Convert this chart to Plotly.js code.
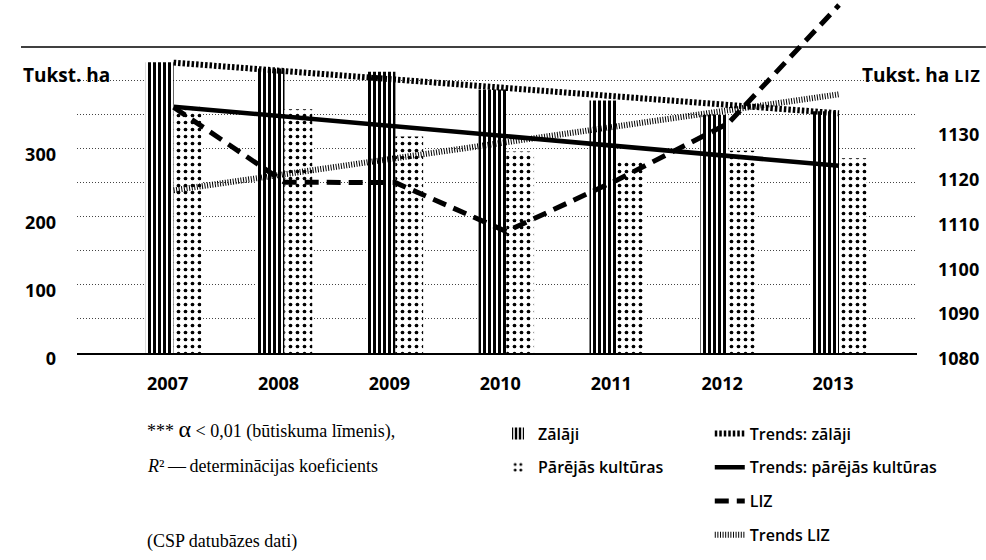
<!DOCTYPE html>
<html>
<head>
<meta charset="utf-8">
<script src="https://cdn.plot.ly/plotly-3.0.1.min.js"></script>
<style>
html,body{margin:0;padding:0;background:#fff;}
#chart{width:986px;height:560px;}
</style>
</head>
<body>
<div id="chart"></div>
<script>
// ---- data ----
const years = [2007, 2008, 2009, 2010, 2011, 2012, 2013];
const yearLabels = ['2007', '2008', '2009', '2010', '2011', '2012', '2013'];
const zalaji = [427, 418, 413, 387, 371, 350, 355];          // Tukst. ha
const parejas = [365, 358, 318, 296, 282, 297, 286];         // Tukst. ha
const liz = [1134.8, 1118.1, 1118.0, 1107.1, 1118.6, 1131.2, 1157.6]; // Tukst. ha LIZ
const trendYears = [2007, 2013];
const trendZalaji = [426.5, 352];
const trendParejas = [361.8, 275];
const trendLiz = [1116.3, 1137.7];
const leftTickVals = [0, 50, 100, 150, 200, 250, 300, 350, 400];
const leftTickText = ['0', '', '100', '', '200', '', '300', '', ''];
const rightTickVals = [1080, 1090, 1100, 1110, 1120, 1130];
const rightTickText = ['1080', '1090', '1100', '1110', '1120', '1130'];
const seriesNames = ['Zālāji', 'Pārējās kultūras', 'Trends: zālāji', 'Trends: pārējās kultūras', 'LIZ', 'Trends LIZ'];

const numFont = {family: 'Open Sans', size: 18, color: '#000', weight: 700};
const legFont = {family: 'Open Sans', size: 16, color: '#000', weight: 600};

const traces = [
  {type: 'bar', x: years, y: zalaji, name: seriesNames[0], legend: 'legend', legendgroup: 'a',
   marker: {color: '#fff', line: {width: 0}, pattern: {shape: '|', size: 5, solidity: 0.6, fgcolor: '#000', fgopacity: 1, fillmode: 'overlay'}}},
  {type: 'bar', x: years, y: parejas, name: seriesNames[1], legend: 'legend', legendgroup: 'b',
   marker: {color: '#fff', line: {width: 0}, pattern: {shape: '.', size: 7, solidity: 0.22, fgcolor: '#000', fgopacity: 1, fillmode: 'overlay'}}},
  {type: 'scatter', mode: 'lines', x: trendYears, y: trendZalaji, name: seriesNames[2], legend: 'legend2', legendgroup: 'c',
   line: {color: '#000', width: 6, dash: '2.5px,2px'}},
  {type: 'scatter', mode: 'lines', x: trendYears, y: trendParejas, name: seriesNames[3], legend: 'legend2', legendgroup: 'd',
   line: {color: '#000', width: 4.5}},
  {type: 'scatter', mode: 'lines', x: years, y: liz, name: seriesNames[4], yaxis: 'y2', legend: 'legend2', legendgroup: 'e',
   line: {color: '#000', width: 5, dash: '14px,8px'}},
  {type: 'scatter', mode: 'lines', x: trendYears, y: trendLiz, name: seriesNames[5], yaxis: 'y2', legend: 'legend2', legendgroup: 'f',
   line: {color: '#000', width: 6, dash: '1px,1.6px'}}
];

const layout = {
  width: 986, height: 560,
  margin: {l: 77, r: 69, t: 0, b: 207.3, pad: 0},
  paper_bgcolor: '#fff', plot_bgcolor: 'rgba(0,0,0,0)',
  font: {family: 'Open Sans', color: '#000'},
  barmode: 'group', bargap: 0.5, bargroupgap: 0,
  showlegend: true,
  xaxis: {
    range: [2006.129, 2013.703], tickvals: years, ticktext: yearLabels,
    showgrid: false, zeroline: false, showline: true, linecolor: '#000', linewidth: 1.5,
    ticks: '', tickfont: numFont, ticklabelstandoff: 14, ticklabelshift: -6, fixedrange: true
  },
  yaxis: {
    range: [0, 518.5], tickvals: leftTickVals, ticktext: leftTickText,
    showgrid: true, gridcolor: '#444', gridwidth: 1, griddash: '1px,2px',
    zeroline: false, showline: false, ticks: '', tickfont: numFont,
    ticklabelstandoff: 20, ticklabelshift: 6, fixedrange: true
  },
  yaxis2: {
    overlaying: 'y', side: 'right', range: [1080, 1158.73],
    tickvals: rightTickVals, ticktext: rightTickText,
    showgrid: false, zeroline: false, showline: false, ticks: '', tickfont: numFont,
    ticklabelstandoff: 20, ticklabelshift: 6, fixedrange: true
  },
  legend: {
    x: 0.5012, y: -0.180, xanchor: 'left', yanchor: 'top', orientation: 'v',
    font: legFont, bgcolor: 'rgba(0,0,0,0)', borderwidth: 0, traceorder: 'grouped', tracegroupgap: 10
  },
  legend2: {
    x: 0.7533, y: -0.180, xanchor: 'left', yanchor: 'top', orientation: 'v',
    font: legFont, bgcolor: 'rgba(0,0,0,0)', borderwidth: 0, traceorder: 'grouped', tracegroupgap: 10
  },
  shapes: [
    {type: 'line', xref: 'paper', yref: 'paper', x0: -0.0667, x1: 1.082, y0: 0.8667, y1: 0.8667,
     line: {color: '#000', width: 1.5}, layer: 'below'}
  ],
  annotations: [
    {xref: 'paper', yref: 'paper', x: -0.0667, y: 0.787, xanchor: 'left', yanchor: 'middle', showarrow: false,
     text: 'Tukst. ha', font: {family: 'Open Sans', size: 19, weight: 700, color: '#000'}},
    {xref: 'paper', yref: 'paper', x: 1.0786, y: 0.787, xanchor: 'right', yanchor: 'middle', showarrow: false,
     text: 'Tukst. ha <span style="font-size:16px;letter-spacing:1px">LIZ</span>', font: {family: 'Open Sans', size: 19, weight: 700, color: '#000'}},
    {xref: 'paper', yref: 'paper', x: 0.0810, y: -0.2150, xanchor: 'left', yanchor: 'middle', showarrow: false,
     text: '*** <span style="font-size:24px">α</span> &lt; 0,01 (būtiskuma līmenis),', font: {family: 'Liberation Serif', size: 18, color: '#000'}},
    {xref: 'paper', yref: 'paper', x: 0.0810, y: -0.3212, xanchor: 'left', yanchor: 'middle', showarrow: false,
     text: '<i>R</i>²\u2009—\u2009determinācijas koeficients', font: {family: 'Liberation Serif', size: 18, color: '#000'}},
    {xref: 'paper', yref: 'paper', x: 0.0810, y: -0.5339, xanchor: 'left', yanchor: 'middle', showarrow: false,
     text: '(CSP datubāzes dati)', font: {family: 'Liberation Serif', size: 18, color: '#000'}}
  ]
};

Plotly.newPlot('chart', traces, layout, {staticPlot: true, displayModeBar: false});
</script>
</body>
</html>
